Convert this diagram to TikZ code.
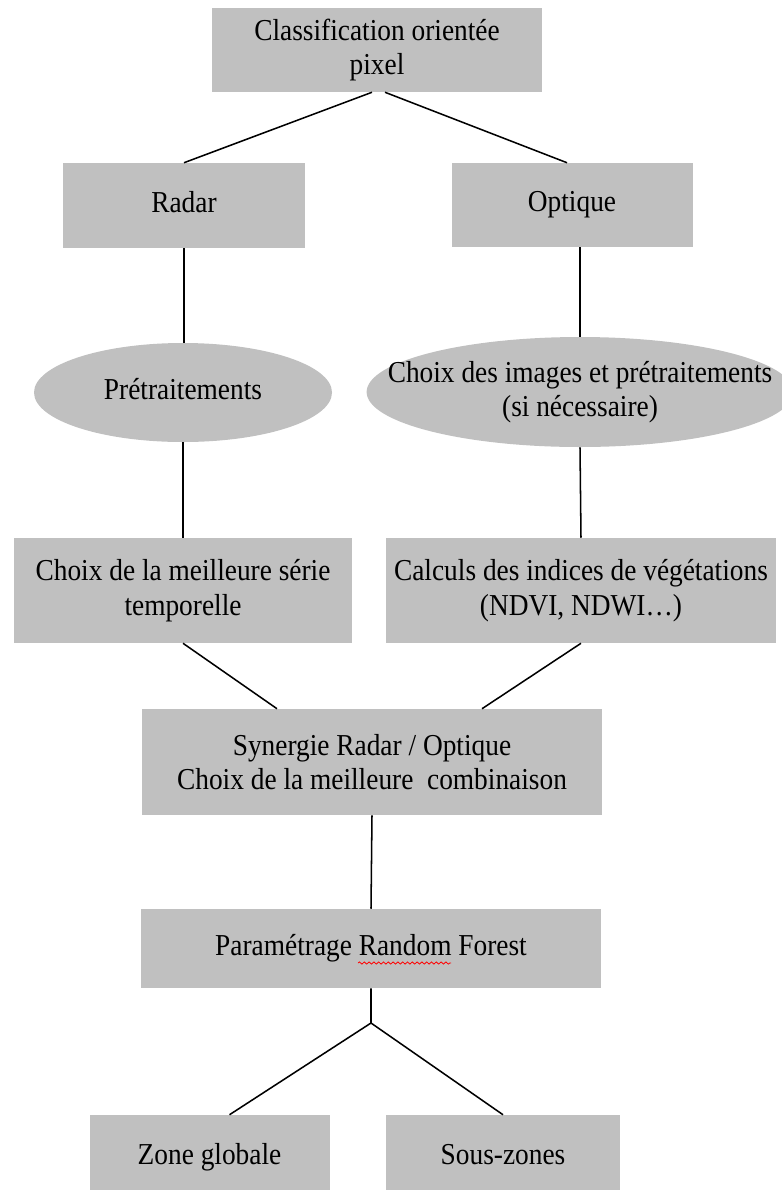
\documentclass[tikz,border=0pt]{standalone}
\usepackage{fontspec}
\setmainfont{Liberation Serif}[FakeStretch=0.9]
\usetikzlibrary{shapes.geometric,calc,decorations.pathmorphing}
\definecolor{boxgray}{RGB}{192,192,192}

\begin{document}
\begin{tikzpicture}[x=0.75pt,y=0.75pt,yscale=-1,xscale=1,
	box/.style={fill=boxgray, draw=none, inner sep=0pt, align=center, font=\fontsize{22.8}{26}\selectfont},
	oneline/.style={box, text height=15pt, text depth=5pt},
	oval/.style={box, ellipse},
	link/.style={draw=black, line width=1.15pt}]
	\useasboundingbox (0,0) rectangle (782,1190);
	\node [box, minimum width=247.5pt, minimum height=63pt] (classif) at (377,50) {Classification orientée\\pixel};
	\node [oneline, minimum width=181.5pt, minimum height=63.75pt] (radar) at (184,205.5) {Radar};
	\node [oneline, minimum width=180.75pt, minimum height=63pt] (optique) at (572,205) {Optique};
	\node [oval, oneline, minimum width=223.5pt, minimum height=74.25pt] (pretrait) at (183,392.5) {Prétraitements};
	\node [oval, inner xsep=-31pt, minimum width=319.5pt, minimum height=82.5pt] (choiximg) at (580,392) {Choix des images et prétraitements\\(si nécessaire)};
	\node [box, minimum width=253.5pt, minimum height=78.75pt] (serie) at (183,590.5) {Choix de la meilleure série\\temporelle};
	\node [box, minimum width=292.5pt, minimum height=78.75pt] (indices) at (581,590.5) {Calculs des indices de végétations\\(NDVI, NDWI\dots)};
	\node [box, minimum width=345pt, minimum height=79.5pt] (synergie) at (372,762) {Synergie Radar / Optique\\Choix de la meilleure\ \ combinaison};
	\node [oneline, minimum width=345pt, minimum height=59.25pt] (rf) at (371,948.5) {Paramétrage Random Forest};
	\node [oneline, minimum width=180pt, minimum height=63.75pt] (globale) at (209.5,1157.5) {Zone globale};
	\node [oneline, minimum width=175.5pt, minimum height=63.75pt] (souszones) at (503,1157.5) {Sous-zones};
	\coordinate (split) at (371,1023);
	\draw [red, line width=0.6pt, decorate, decoration={snake, amplitude=0.8pt, segment length=3.6pt}] (358,963) -- (451,963);
	\draw [link] ($(classif.south)+(-5,0)$) -- (radar.north);
	\draw [link] ($(classif.south)+(8,0)$) -- ($(optique.north)+(-5,0)$);
	\draw [link] (radar.south) -- (radar.south |- pretrait.north);
	\draw [link] (optique.south -| choiximg.north) -- (choiximg.north);
	\draw [link] (pretrait.south) -- (serie.north);
	\draw [link] (choiximg.south) -- (indices.north);
	\draw [link] (serie.south) -- ($(synergie.north)+(-95,0)$);
	\draw [link] (indices.south) -- ($(synergie.north)+(110,0)$);
	\draw [link] (synergie.south) -- (rf.north);
	\draw [link] (rf.south) -- (split) -- ($(globale.north)+(20,0)$);
	\draw [link] (split) -- (souszones.north);
\end{tikzpicture}
\end{document}
